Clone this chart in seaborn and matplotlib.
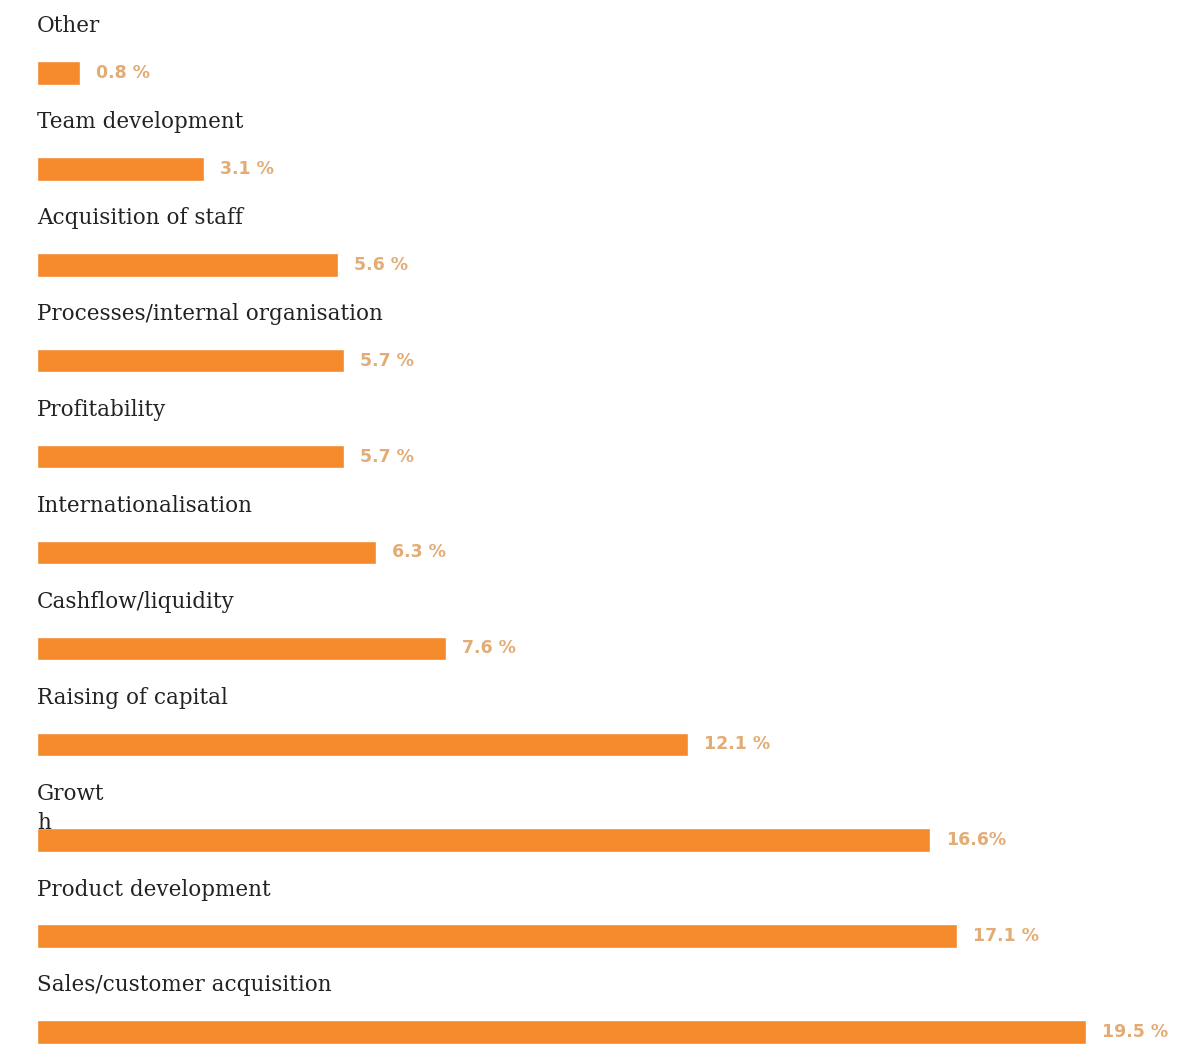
import matplotlib
matplotlib.use("Agg")
import matplotlib.pyplot as plt
import seaborn as sns
import pandas as pd

categories = ["Other", "Team development", "Acquisition of staff",
              "Processes/internal organisation", "Profitability",
              "Internationalisation", "Cashflow/liquidity", "Raising of capital",
              "Growt\nh", "Product development", "Sales/customer acquisition"]
values = [0.8, 3.1, 5.6, 5.7, 5.7, 6.3, 7.6, 12.1, 16.6, 17.1, 19.5]
value_labels = ["0.8 %", "3.1 %", "5.6 %", "5.7 %", "5.7 %", "6.3 %",
                "7.6 %", "12.1 %", "16.6%", "17.1 %", "19.5 %"]

sns.set_style("white")
df = pd.DataFrame({"cat": categories, "val": values})

fig = plt.figure(figsize=(11.79, 10.5), dpi=100)
ax = fig.add_axes([0, 0, 1, 1])
sns.barplot(data=df, y="cat", x="val", orient="h", color="#f48a2c",
            saturation=1, width=0.245, ax=ax)

ax.set_xlim(-37 / 53.8, (1179 - 37) / 53.8)
ax.set_ylim((1050 - 73) / 95.9, -73 / 95.9)
ax.axis("off")

for i, (c, v, lab) in enumerate(zip(categories, values, value_labels)):
    ax.text(0.0, i - 0.6, c, ha="left", va="top", fontsize=15.5,
            family="DejaVu Serif", color="#222222", linespacing=1.45)
    ax.text(v + 0.3, i, lab, ha="left", va="center", fontsize=12.5,
            fontweight="bold", family="DejaVu Sans", color="#e3ac74")

fig.savefig("out.png", dpi=100)
